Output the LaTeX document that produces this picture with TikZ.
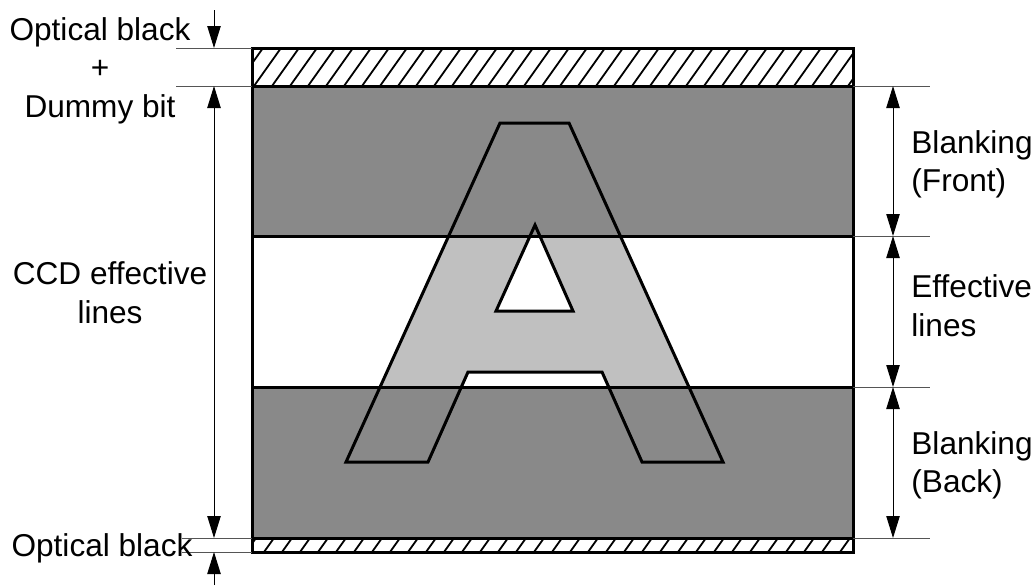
\documentclass[tikz,border=0pt]{standalone}
\usepackage{fontspec}
\setmainfont{Liberation Sans}
\usetikzlibrary{arrows.meta}
\definecolor{CCDDark}{HTML}{898989}
\definecolor{CCDLight}{HTML}{C0C0C0}
\definecolor{CCDLine}{HTML}{555555}
\begin{document}
\begin{tikzpicture}[x=0.5pt,y=-0.5pt,>={Triangle[length=11pt,width=6.7pt]},
 lbl/.style={inner sep=0pt,font=\fontsize{15.8}{19.25}\selectfont,align=center},
 extline/.style={draw=CCDLine,line width=0.5pt},
 dimline/.style={<->,line width=0.5pt},
 hatchline/.style={line width=0.9pt},
 edge/.style={line width=1.5pt,line join=miter}]
\useasboundingbox (0,0) rectangle (1036,585);
% bands
\fill[white] (252,48) rectangle (853,86);
\fill[CCDDark] (252,86) rectangle (853,236);
\fill[white] (252,236) rectangle (853,387);
\fill[CCDDark] (252,387) rectangle (853,538);
\fill[white] (252,538) rectangle (853,552);
\begin{scope}
\clip (252,48) rectangle (853,86);
\foreach \i in {0,...,35} \draw[hatchline] ({236+\i*18},86) -- ++(27,-38);
\end{scope}
\begin{scope}
\clip (252,538) rectangle (853,552);
\foreach \i in {0,...,35} \draw[hatchline] ({246+\i*18},552) -- ++(10,-14);
\end{scope}
% letter A
\begin{scope}
\clip (252,236) rectangle (853,387);
\fill[CCDLight,even odd rule] (500,123) -- (569,123) -- (723,462) -- (642,462) -- (602,372) -- (468,372) -- (428,462) -- (346,462) -- cycle
 (535,225) -- (573,311) -- (496,311) -- cycle;
\end{scope}
\draw[edge] (500,123) -- (569,123) -- (723,462) -- (642,462) -- (602,372) -- (468,372) -- (428,462) -- (346,462) -- cycle;
\draw[edge] (535,225) -- (573,311) -- (496,311) -- cycle;
\draw[edge] (252,86) -- (853,86);
\draw[edge] (252,236) -- (853,236);
\draw[edge] (252,387) -- (853,387);
\draw[edge] (252,538) -- (853,538);
\draw[edge] (252,48) rectangle (853,552);
% extension lines
\draw[extline] (176,48) -- (252,48);
\draw[extline] (176,86) -- (252,86);
\draw[extline] (182,538) -- (252,538);
\draw[extline] (182,552) -- (252,552);
\foreach \y in {86,236,387,538} \draw[extline] (853,\y) -- (930,\y);
% dimension points
\coordinate (a0) at (214,10);
\coordinate (a1) at (214,48);
\coordinate (a2) at (214,86);
\coordinate (a3) at (214,538);
\coordinate (a4) at (214,552);
\coordinate (a5) at (214,585);
\coordinate (r1) at (893,86);
\coordinate (r2) at (893,236);
\coordinate (r3) at (893,387);
\coordinate (r4) at (893,538);
\draw[->,line width=0.5pt] (a0) -- (a1);
\draw[dimline] (a2) -- (a3);
\draw[->,line width=0.5pt] (a5) -- (a4);
\draw[dimline] (r1) -- (r2);
\draw[dimline] (r2) -- (r3);
\draw[dimline] (r3) -- (r4);
% labels
\node[lbl] (obtop) at (100,70.5) {Optical black\\+\\Dummy bit};
\node[lbl] (ccd) at (110,292.7) {CCD effective\\lines};
\node[lbl] (obbot) at (102,548) {Optical black};
\node[lbl,align=left,anchor=west] (bfront) at (911,164.5) {Blanking\\(Front)};
\node[lbl,align=left,anchor=west] (eff) at (911,305.7) {Effective\\lines};
\node[lbl,align=left,anchor=west] (bback) at (911,465.5) {Blanking\\(Back)};
\end{tikzpicture}
\end{document}
